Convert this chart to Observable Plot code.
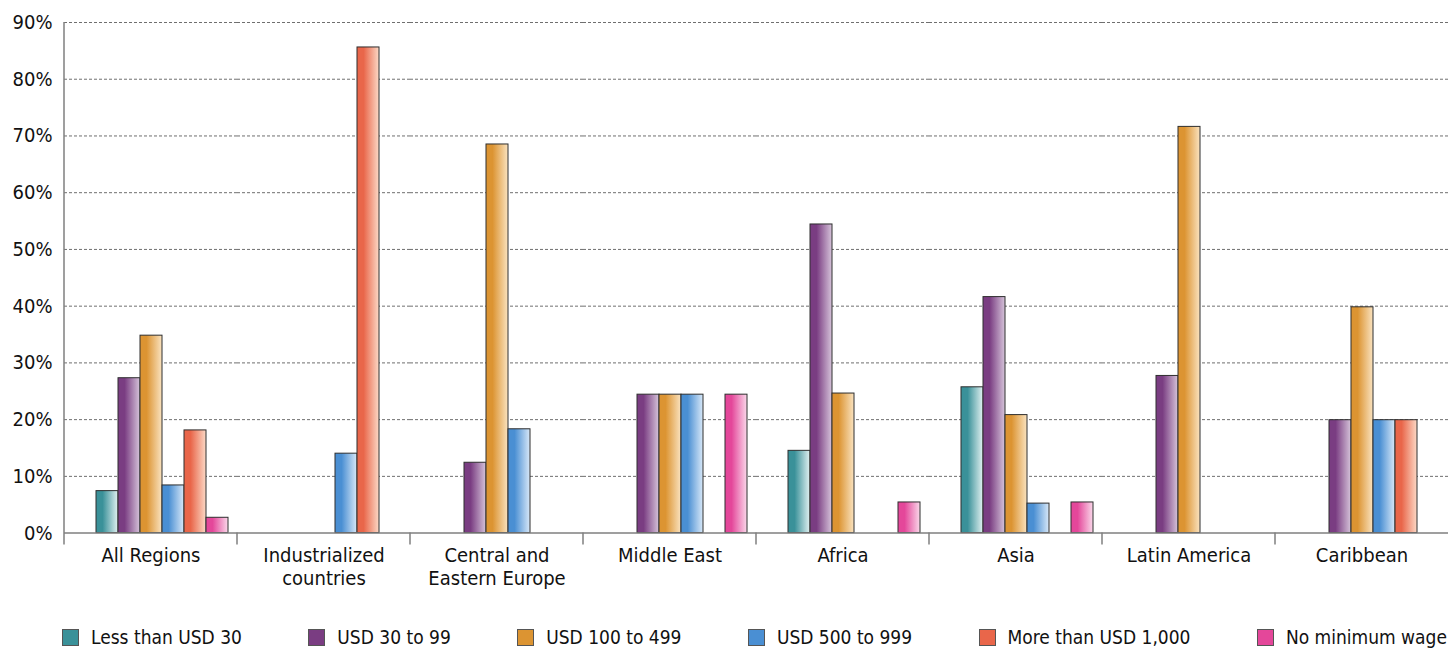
<!DOCTYPE html>
<html>
<head>
<meta charset="utf-8">
<script src="https://cdn.jsdelivr.net/npm/d3@7"></script>
<script src="https://cdn.jsdelivr.net/npm/@observablehq/plot@0.6"></script>
<style>
  html, body { margin: 0; padding: 0; background: #fff; }
  body { width: 1456px; font-family: "DejaVu Sans Condensed", "DejaVu Sans", sans-serif; font-stretch: condensed; color: #111; }
  svg text { font-stretch: condensed; }
  #legend { display: flex; justify-content: space-between; align-items: center; padding: 0 9px 0 62px; margin-top: 26px; font-size: 19px; line-height: 22px; }
  #legend .item { display: flex; align-items: center; white-space: nowrap; }
  #legend .sw { width: 15px; height: 15px; border: 1px solid #555; margin-right: 12px; }
</style>
</head>
<body>
<div id="chart"></div>
<div id="legend"></div>
<script>
// Regions along the x axis and their printed labels (first and second line)
const regions = ["All Regions", "Industrialized countries", "Central and Eastern Europe", "Middle East", "Africa", "Asia", "Latin America", "Caribbean"];
const labelLine1 = ["All Regions", "Industrialized", "Central and", "Middle East", "Africa", "Asia", "Latin America", "Caribbean"];
const labelLine2 = ["", "countries", "Eastern Europe", "", "", "", "", ""];

// Minimum wage bands (series)
const series = ["Less than USD 30", "USD 30 to 99", "USD 100 to 499", "USD 500 to 999", "More than USD 1,000", "No minimum wage"];

// Share of countries (%) per region, one array per wage band (null = no bar)
const lessThan30   = [7.4,  null, null, null, 14.5, 25.7, null, null];
const usd30to99    = [27.3, null, 12.4, 24.4, 54.4, 41.6, 27.7, 19.9];
const usd100to499  = [34.8, null, 68.5, 24.4, 24.6, 20.8, 71.6, 39.8];
const usd500to999  = [8.4,  14.0, 18.3, 24.4, null, 5.2,  null, 19.9];
const over1000     = [18.1, 85.6, null, null, null, null, null, 19.9];
const noMinimum    = [2.7,  null, null, 24.4, 5.4,  5.4,  null, null];
const seriesValues = [lessThan30, usd30to99, usd100to499, usd500to999, over1000, noMinimum];

// Y axis ticks
const yTicks = [0, 10, 20, 30, 40, 50, 60, 70, 80, 90];

// Bar colours: solid base and the pale tint each bar fades to on its right side
const baseColors  = ["#3a9199", "#7a3d82", "#dc9432", "#4a8fd3", "#e9664a", "#e4479a"];
const lightColors = ["#e2f1f1", "#d6c4da", "#fae3c0", "#d8e8f8", "#fcd9c6", "#fad8ea"];

const gradId = i => `wage-band-${i}`;

const table = [];
series.forEach((s, i) => {
  seriesValues[i].forEach((v, j) => {
    if (v != null) table.push({region: regions[j], series: s, value: v, grad: `url(#${gradId(i)})`});
  });
});

const width = 1456, height = 600;
const font = `"DejaVu Sans Condensed", "DejaVu Sans", sans-serif`;

const chart = Plot.plot({
  width, height,
  marginLeft: 61, marginRight: 5.5, marginTop: 22, marginBottom: 67.4,
  style: {fontFamily: font, fontSize: "20px", color: "#111", background: "#fff", overflow: "visible"},
  fx: {domain: regions, padding: 0, axis: null, label: null},
  x: {domain: series, axis: null, paddingInner: 0, paddingOuter: 0.826, align: 0.77},
  y: {domain: [0, 90], ticks: yTicks, tickFormat: d => `${d}%`, tickSize: 0, tickPadding: 12, label: null},
  color: {type: "identity"},
  marks: [
    Plot.ruleY(yTicks.filter(d => d > 0), {stroke: "#6f6f6f", strokeWidth: 1, strokeDasharray: "3,2"}),
    Plot.barY(table, {fx: "region", x: "series", y: "value", fill: "grad", stroke: "#2e2e2e", strokeWidth: 1}),
    Plot.ruleY([0], {stroke: "#7f7f7f", strokeWidth: 1.5}),
    Plot.text(regions, {fx: d => d, text: (d, i) => labelLine1[i], frameAnchor: "bottom", lineAnchor: "top", dy: 15, fontSize: 20, fill: "#111"}),
    Plot.text(regions, {fx: d => d, text: (d, i) => labelLine2[i], frameAnchor: "bottom", lineAnchor: "top", dy: 38, fontSize: 20, fill: "#111"})
  ]
});

// Horizontal gradients for the bars
const svg = d3.select(chart);
const defs = svg.insert("defs", ":first-child");
series.forEach((s, i) => {
  const lg = defs.append("linearGradient").attr("id", gradId(i)).attr("x1", "0").attr("x2", "1").attr("y1", "0").attr("y2", "0");
  lg.append("stop").attr("offset", "0").attr("stop-color", baseColors[i]);
  lg.append("stop").attr("offset", "0.3").attr("stop-color", baseColors[i]);
  lg.append("stop").attr("offset", "1").attr("stop-color", lightColors[i]);
});

// Y axis line and the category separators below the baseline
const fx = chart.scale("fx"), y = chart.scale("y");
const y0 = y.apply(0), yTop = y.apply(90);
const axisG = svg.append("g").attr("stroke", "#7f7f7f").attr("stroke-width", 1.5);
const xLeft = fx.apply(regions[0]);
axisG.append("line").attr("x1", xLeft).attr("x2", xLeft).attr("y1", yTop).attr("y2", y0 + 12);
regions.slice(1).forEach(r => {
  const xb = fx.apply(r);
  axisG.append("line").attr("x1", xb).attr("x2", xb).attr("y1", y0).attr("y2", y0 + 12);
});

document.getElementById("chart").appendChild(chart);

// Legend
const legend = d3.select("#legend");
series.forEach((s, i) => {
  const item = legend.append("div").attr("class", "item");
  item.append("div").attr("class", "sw").style("background", baseColors[i]);
  item.append("span").text(s);
});
</script>
</body>
</html>
